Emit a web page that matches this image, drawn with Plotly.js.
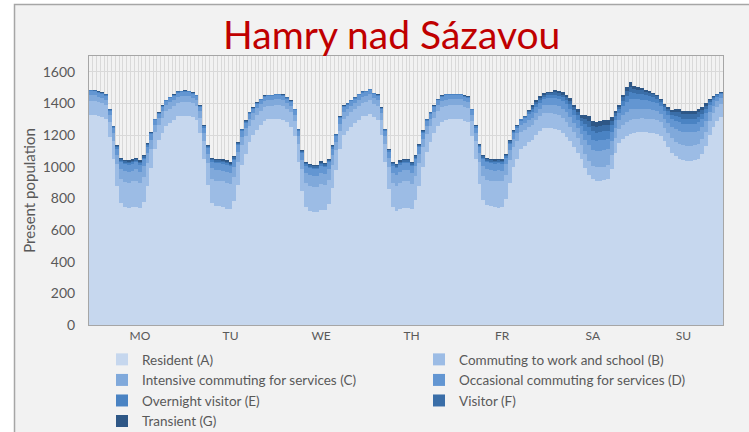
<!DOCTYPE html>
<html>
<head>
<meta charset="utf-8">
<script src="https://cdn.plot.ly/plotly-3.0.1.min.js"></script>
<style>
  html, body { margin: 0; padding: 0; background: #ffffff; }
  #chart { width: 749px; height: 432px; }
</style>
</head>
<body>
<div id="chart"></div>
<script>
// ---- Data (hourly, Monday 0h .. Sunday 23h) ----
const days = ['MO', 'TU', 'WE', 'TH', 'FR', 'SA', 'SU'];

const seriesNames = [
  'Resident (A)',
  'Commuting to work and school (B)',
  'Intensive commuting for services (C)',
  'Occasional commuting for services (D)',
  'Overnight visitor (E)',
  'Visitor (F)',
  'Transient (G)'
];

const residentA = [
  1328,1326,1322,1315,1300,1190,1050,880,770,745,740,748,748,740,775,880,990,1115,1170,1215,1260,1278,1298,1318,
  1322,1324,1320,1315,1295,1215,1052,885,773,752,750,747,731,730,783,887,1011,1083,1156,1202,1234,1265,1291,1300,
  1300,1301,1301,1297,1280,1254,1192,1031,849,746,720,714,714,725,726,767,866,979,1111,1198,1228,1249,1275,1296,
  1318,1322,1333,1313,1297,1202,1031,860,746,720,731,742,742,731,788,876,1000,1094,1156,1213,1255,1286,1296,1301,
  1301,1301,1301,1291,1285,1192,1052,891,788,758,752,747,742,747,798,897,1000,1052,1114,1131,1156,1168,1199,1225,
  1245,1245,1245,1238,1232,1215,1190,1160,1125,1090,1050,990,950,920,912,910,915,925,985,1090,1150,1175,1195,1210,
  1215,1217,1218,1217,1215,1212,1205,1195,1160,1125,1090,1065,1050,1040,1038,1039,1040,1050,1080,1130,1200,1250,1290,1312
];

const commutingB = [
  88,88,85,85,88,95,114,137,152,160,160,160,165,160,160,145,124,103,95,95,90,90,88,88,
  88,88,88,85,88,95,114,137,152,160,160,160,165,160,152,145,124,114,103,95,95,90,88,85,
  85,88,88,88,88,90,95,114,137,152,160,160,160,165,160,152,145,124,114,103,95,95,90,90,
  88,88,88,85,88,95,114,137,152,160,165,165,165,160,152,145,124,114,103,95,95,90,90,88,
  88,88,88,88,88,95,114,137,152,160,160,160,165,160,152,145,124,114,103,103,95,95,95,95,
  95,95,95,95,95,95,92,90,92,90,90,88,85,85,85,86,86,85,88,92,86,87,87,88,
  88,88,88,88,88,88,88,86,87,90,92,94,95,95,95,95,95,95,94,92,90,88,86,85
];

const intensiveC = [
  37,37,36,36,37,41,48,58,65,68,68,68,71,68,68,62,53,44,41,41,39,39,37,37,
  37,37,37,36,37,41,48,58,65,68,68,68,71,68,65,62,53,48,44,41,41,39,37,36,
  36,37,37,37,37,39,41,48,58,65,68,68,68,71,68,65,62,53,48,44,41,41,39,39,
  37,37,37,36,37,41,48,58,65,68,71,71,71,68,65,62,53,48,44,41,41,39,39,37,
  37,37,37,37,37,41,48,58,65,68,68,68,71,68,65,62,53,48,44,44,45,48,48,48,
  48,50,50,55,55,58,62,66,62,66,66,90,103,103,103,106,106,103,88,62,60,64,65,66,
  64,63,62,60,59,58,57,55,58,63,70,80,84,84,84,84,84,84,78,68,55,45,38,35
];

const occasionalD = [
  25,25,24,24,25,28,34,40,43,44,44,44,45,44,44,41,37,31,28,28,26,26,25,25,
  25,25,25,24,25,28,34,40,43,44,44,44,45,44,43,41,37,34,31,28,28,26,25,24,
  24,25,25,25,25,26,28,34,40,43,44,44,44,45,44,43,41,37,34,31,28,28,26,26,
  25,25,25,24,25,28,34,40,43,44,45,45,45,44,43,41,37,34,31,28,28,26,26,25,
  25,25,25,25,25,28,34,40,43,44,44,44,45,44,43,41,37,34,31,31,35,38,38,38,
  38,42,42,45,45,47,50,52,50,52,52,60,63,63,63,65,65,63,58,50,45,56,62,64,
  60,58,57,55,53,52,51,48,47,47,49,51,52,52,52,52,52,52,50,48,43,38,30,27
];

const overnightE = [
  6,6,6,6,6,6,7,8,9,9,9,9,9,9,9,8,8,7,6,6,6,6,6,6,
  6,6,6,6,6,6,7,8,9,9,9,9,9,9,9,8,8,7,7,6,6,6,6,6,
  6,6,6,6,6,6,6,7,8,9,9,9,9,9,9,9,8,8,7,7,6,6,6,6,
  6,6,6,6,6,6,7,8,9,9,9,9,9,9,9,8,8,7,7,6,6,6,6,6,
  6,6,6,6,6,6,7,8,9,9,9,9,9,9,9,8,8,7,7,7,12,17,17,17,
  17,19,19,22,22,24,27,29,27,29,29,45,53,53,53,55,55,53,43,27,25,33,40,42,
  38,36,35,33,32,31,30,25,24,25,27,30,32,32,32,32,32,32,30,28,22,15,10,7
];

const visitorF = [
  2,2,2,2,2,2,3,6,8,9,9,9,10,9,9,7,4,2,2,2,2,2,2,2,
  2,2,2,2,2,2,3,6,8,9,9,9,10,9,8,7,4,3,2,2,2,2,2,2,
  2,2,2,2,2,2,2,3,6,8,9,9,9,10,9,8,7,4,3,2,2,2,2,2,
  2,2,2,2,2,2,3,6,8,9,10,10,10,9,8,7,4,3,2,2,2,2,2,2,
  2,2,2,2,2,2,3,6,8,9,9,9,10,9,8,7,4,3,2,2,7,12,12,12,
  12,13,13,16,16,17,19,21,19,21,21,29,33,33,33,34,34,33,27,19,14,24,33,37,
  29,26,24,21,19,18,16,13,13,15,19,27,31,31,31,31,31,31,26,21,13,7,4,2
];

const transientG = [
  2,2,2,2,2,3,4,6,8,10,10,10,10,10,10,7,4,3,3,3,2,2,2,2,
  2,2,2,2,2,3,4,6,8,10,10,10,10,10,8,7,4,4,3,3,3,2,2,2,
  2,2,2,2,2,2,3,4,6,8,10,10,10,10,10,8,7,4,4,3,3,3,2,2,
  2,2,2,2,2,3,4,6,8,10,10,10,10,10,8,7,4,4,3,3,3,2,2,2,
  2,2,2,2,2,3,4,6,8,10,10,10,10,10,8,7,4,4,3,3,6,10,10,10,
  10,11,11,12,12,14,15,17,15,17,17,28,33,33,33,34,34,33,26,15,10,16,23,26,
  18,15,13,11,10,9,8,8,9,10,13,18,21,21,21,21,21,21,17,13,7,4,2,2
];

// ---- Build chart ----
const seriesValues = [residentA, commutingB, intensiveC, occasionalD, overnightE, visitorF, transientG];
seriesValues.forEach((s, i) => { if (s.length !== 168) throw new Error('Series ' + i + ' has ' + s.length + ' values'); });

const colors = ['#c6d7ee', '#9cbce5', '#80a9db', '#6396d2', '#4a83c3', '#3a6ea8', '#2e5786'];
const hours = residentA.map((_, i) => i);
const legendOf = ['legend', 'legend2', 'legend', 'legend2', 'legend', 'legend2', 'legend'];

const traces = seriesValues.map((vals, i) => ({
  type: 'bar',
  name: seriesNames[i],
  x: hours,
  y: vals,
  marker: { color: colors[i], line: { width: 0 } },
  legend: legendOf[i],
  hoverinfo: 'skip'
}));

const FONT = 'Lato, "Open Sans", sans-serif';
const GREY = '#595959';

const legendStyle = {
  orientation: 'v',
  traceorder: 'normal',
  yanchor: 'top',
  xanchor: 'left',
  bgcolor: 'rgba(0,0,0,0)',
  font: { family: FONT, size: 13.5, color: GREY },
  itemwidth: 30
};

const layout = {
  width: 749,
  height: 432,
  margin: { l: 89, r: 26, t: 56, b: 107, autoexpand: false },
  paper_bgcolor: '#ffffff',
  plot_bgcolor: '#ffffff',
  barmode: 'stack',
  bargap: 0,
  font: { family: FONT, color: GREY, size: 13 },
  title: {
    text: 'Hamry nad Sázavou',
    font: { family: FONT, size: 39, color: '#c00000' },
    x: 0.523, xanchor: 'center',
    y: 0.918, yanchor: 'middle'
  },
  xaxis: {
    range: [-0.5, 167.5],
    tickmode: 'array',
    tickvals: days.map((d, i) => i * 24 + 13),
    ticktext: days,
    ticks: '',
    showgrid: false,
    zeroline: false,
    showline: true,
    mirror: true,
    linecolor: '#a6a6a6',
    linewidth: 1,
    automargin: false,
    tickfont: { family: FONT, size: 12, color: GREY },
    minor: { tick0: -0.5, dtick: 1, showgrid: true, gridcolor: '#d9d9d9', gridwidth: 1, ticks: '' }
  },
  yaxis: {
    range: [0, 1700],
    dtick: 200,
    tick0: 0,
    showgrid: true,
    gridcolor: '#d9d9d9',
    gridwidth: 1,
    zeroline: false,
    showline: true,
    mirror: true,
    linecolor: '#a6a6a6',
    linewidth: 1,
    ticks: '',
    automargin: false,
    ticklabelstandoff: 10,
    tickfont: { family: FONT, size: 14, color: GREY },
    title: { text: 'Present population', font: { family: FONT, size: 15, color: GREY }, standoff: 3 }
  },
  legend: Object.assign({}, legendStyle, { x: 0.0205, y: -0.071 }),
  legend2: Object.assign({}, legendStyle, { x: 0.5205, y: -0.071 }),
  shapes: [{
    type: 'rect', xref: 'paper', yref: 'paper', layer: 'below',
    x0: -0.1175, x1: 1.06, y0: -0.45, y1: 1.1914,
    fillcolor: '#f2f2f2',
    line: { color: '#a6a6a6', width: 1.5 }
  }]
};

Plotly.newPlot('chart', traces, layout, { displayModeBar: false, staticPlot: true });
</script>
</body>
</html>
